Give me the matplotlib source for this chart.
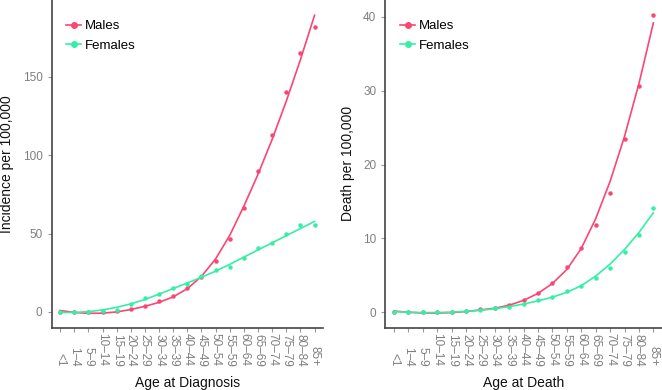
import numpy as np
import matplotlib.pyplot as plt

plt.rcParams['font.family'] = ['Liberation Sans', 'DejaVu Sans']

age_groups = ['<1', '1–4', '5–9', '10–14', '15–19', '20–24', '25–29', '30–34', '35–39',
              '40–44', '45–49', '50–54', '55–59', '60–64', '65–69', '70–74', '75–79',
              '80–84', '85+']

# incidence per 100,000
inc_males = [0, 0, -0.3, 0, 0.5, 2, 4, 7, 10, 15, 22, 32.5, 46.5, 66.5, 90, 113, 140, 165.5, 182]
inc_females = [0, 0, 0, 0.5, 1.5, 5, 9, 11.3, 15, 18, 23, 26.6, 28.7, 34.3, 41, 44, 49.6, 55.7, 55.3]

# death per 100,000
death_males = [0, 0, 0, 0, 0, 0.2, 0.45, 0.6, 0.9, 1.6, 2.6, 3.9, 6.1, 8.7, 11.8, 16.2, 23.4, 30.6, 40.3]
death_females = [0, 0, 0, 0, 0, 0.1, 0.27, 0.5, 0.7, 1.1, 1.6, 2.1, 2.8, 3.5, 4.65, 6.0, 8.2, 10.4, 14.1]

male_col = '#FA4672'
female_col = '#35EFA6'


# loess 局部二次加权回归, 在每个数据点上取拟合值
def loess_fit(x, y, span=0.75):
    x = np.asarray(x, float)
    y = np.asarray(y, float)
    q = int(np.floor(len(x) * span))
    fitted = []
    for x0 in x:
        d = np.abs(x - x0)
        h = np.sort(d)[q - 1]
        w = np.clip(1 - (d / h) ** 3, 0, None) ** 3
        A = np.vstack([np.ones_like(x), x - x0, (x - x0) ** 2]).T
        W = np.sqrt(w)
        beta = np.linalg.lstsq(A * W[:, None], y * W, rcond=None)[0]
        fitted.append(beta[0])
    return np.array(fitted)


def draw_panel(ax, males, females, ylim, yticks, xlabel, ylabel):
    x = np.arange(len(age_groups))
    for y, col, lab in [(males, male_col, 'Males'), (females, female_col, 'Females')]:
        ax.plot(x, loess_fit(x, y), '-', color=col, lw=1.2)
        ax.plot(x, y, 'o', color=col, ms=3.2, mec='none')
        ax.plot([], [], 'o-', color=col, ms=4, lw=1.2, label=lab)

    ax.set_xlim(-0.6, len(age_groups) - 0.4)
    ax.set_ylim(*ylim)
    ax.set_yticks(yticks)
    ax.set_xticks(x)
    ax.set_xticklabels(age_groups, rotation=270, rotation_mode='anchor', ha='right', va='center')
    ax.tick_params(axis='x', length=3, pad=25, color='#999999', labelcolor='#7f7f7f', labelsize=8.5)
    ax.tick_params(axis='y', length=3, color='#999999', labelcolor='#7f7f7f', labelsize=8.5)
    for s in ['top', 'right']:
        ax.spines[s].set_visible(False)
    for s in ['left', 'bottom']:
        ax.spines[s].set_color('#444444')
        ax.spines[s].set_linewidth(1.2)
    ax.set_xlabel(xlabel, fontsize=10, color='#111111', labelpad=7)
    ax.set_ylabel(ylabel, fontsize=10, color='#111111', labelpad=6)
    ax.legend(loc='upper left', bbox_to_anchor=(0.01, 0.975), frameon=False, fontsize=9.5,
              handlelength=1.15, handletextpad=0.3, labelspacing=0.55)


fig = plt.figure(figsize=(6.62, 3.9), dpi=100)
ax1 = fig.add_axes([0.078, 0.160, 0.410, 0.840])
ax2 = fig.add_axes([0.582, 0.160, 0.418, 0.840])

draw_panel(ax1, inc_males, inc_females, (-10, 199), [0, 50, 100, 150],
           'Age at Diagnosis', 'Incidence per 100,000')
draw_panel(ax2, death_males, death_females, (-2.1, 42.3), [0, 10, 20, 30, 40],
           'Age at Death', 'Death per 100,000')

fig.savefig('out.png', dpi=100)
